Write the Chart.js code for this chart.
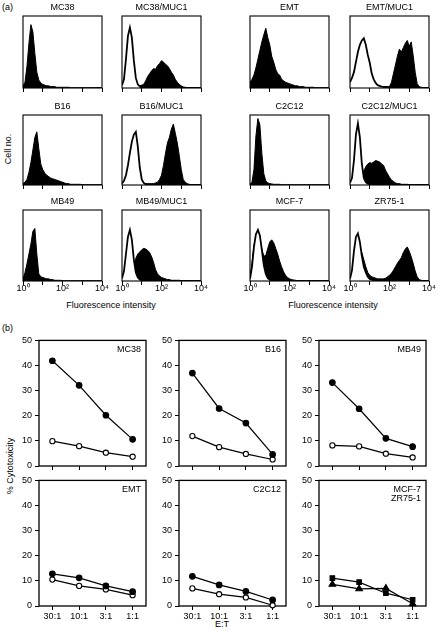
<!DOCTYPE html>
<html>
<head>
<meta charset="utf-8">
<script src="https://cdn.jsdelivr.net/npm/chart.js"></script>
<style>
  body { margin: 0; background: #fff; }
  #fig { position: relative; width: 438px; height: 634px; overflow: hidden; font-family: "Liberation Sans", Arial, sans-serif; color: #000; }
  #fig canvas { position: absolute; }
  .lbl { position: absolute; font-size: 9px; line-height: 10px; white-space: nowrap; transform: translate(-50%, -50%); }
  .rot { transform: translate(-50%, -50%) rotate(-90deg); }
  .tag { position: absolute; font-size: 9px; line-height: 10px; }
</style>
</head>
<body>
<div id="fig">
  <div class="tag" style="left:2px;top:2px">(a)</div>
  <div class="tag" style="left:2px;top:323px">(b)</div>
  <div class="lbl rot" style="left:8px;top:149px">Cell no.</div>
  <div class="lbl" style="left:111px;top:305px">Fluorescence intensity</div>
  <div class="lbl" style="left:333px;top:305px">Fluorescence intensity</div>
  <div class="lbl rot" style="left:10px;top:466px">% Cytotoxicity</div>
  <div class="lbl" style="left:222px;top:624px">E:T</div>
</div>
<script>
// histogram bins, log10 of fluorescence
const logBins = [0,0.1,0.2,0.3,0.4,0.5,0.6,0.7,0.8,0.9,1,1.1,1.2,1.3,1.4,1.5,1.6,1.7,1.8,1.9,2,2.1,2.2,2.3,2.4,2.5,2.6,2.7,2.8,2.9,3,3.1,3.2,3.3,3.4,3.5,3.6,3.7,3.8,3.9,4];
const decadeTicks = ['10\u2070', '', '10\u00b2', '', '10\u2074'];

const histMc38 = [3,8,30,62,88,78,48,22,11,7, 5,4,3,3,2,2,2,1,1,1, 1,1,1,1,0.5,0.5,0.5,0.5,0.5,0.5, 0.5,0.5,0.5,0.5,0.5,0.5,0.5,0.5,0.5,0.5, 0.5];
const histMc38Muc1Ctrl = [4,12,40,72,84,70,38,14,5,2, 1,0,0,0,0,0,0,0,0,0, 0,0,0,0,0,0,0,0,0,0, 0,0,0,0,0,0,0,0,0,0, 0];
const histMc38Muc1 = [1,2,3,3,3,3,3,3,3,3, 4,5,10,16,20,24,27,26,31,34, 38,36,33,31,27,22,18,12,8,5, 3,1.5,1,0.5,0.5,0.5,0.5,0.5,0.5,0.5, 0.5];

const histB16 = [2,4,8,18,32,50,68,76,52,30, 22,17,14,12,10,9,8,7,6,5, 4,3,2,2,1,1,1,1,1,1, 0.5,0.5,0.5,0.5,0.5,0.5,0.5,0.5,0.5,0.5, 0.5];
const histB16Muc1Ctrl = [2,6,14,28,46,62,72,76,55,25, 8,3,1,0,0,0,0,0,0,0, 0,0,0,0,0,0,0,0,0,0, 0,0,0,0,0,0,0,0,0,0, 0];
const histB16Muc1 = [1,1,2,2,2,2,2,2,2,2, 2,2,2,2,2,2,2,3,4,8, 14,28,45,60,68,80,87,74,60,42, 22,8,4,2,1,0.5,0.5,0.5,0.5,0.5, 0.5];

const histEmt = [8,12,18,28,40,52,64,74,83,70, 60,44,36,26,20,18,12,10,8,7, 6,5,4,3,3,2,2,2,1,1, 1,1,1,0.5,0.5,0.5,0.5,0.5,0.5,0.5, 0.5];
const histEmtMuc1Ctrl = [8,14,22,36,50,60,66,69,60,46, 35,20,12,7,4,3,2,1.5,1,1, 1,0.5,0,0,0,0,0,0,0,0, 0,0,0,0,0,0,0,0,0,0, 0];
const histEmtMuc1 = [1,1,2,2,2,2,2,2,2,2, 2,2,2,2,2,2,2,2,2,2, 2,8,20,32,44,54,50,56,62,66, 58,64,45,22,6,2,1,0.5,0.5,0.5, 0.5];

const histC2c12 = [1,4,22,70,95,86,45,16,6,3, 2,1.5,1,1,1,1,0.5,0.5,0.5,0.5, 0.5,0.5,0.5,0.5,0.5,0.5,0.5,0.5,0.5,0.5, 0.5,0.5,0.5,0.5,0.5,0.5,0.5,0.5,0.5,0.5, 0.5];
const histC2c12Muc1Ctrl = [3,10,35,72,88,68,30,10,4,2, 1,0,0,0,0,0,0,0,0,0, 0,0,0,0,0,0,0,0,0,0, 0,0,0,0,0,0,0,0,0,0, 0];
const histC2c12Muc1 = [1,2,3,4,5,8,14,20,26,30, 32,31,33,35,34,33,30,28,21,16, 11,7,5,3,2,2,1,1,1,1, 0.5,0.5,0.5,0.5,0.5,0.5,0.5,0.5,0.5,0.5, 0.5];

const histMb49 = [3,12,24,38,52,70,74,38,10,6, 5,4,3,3,2,2,1,1,1,1, 0.5,0.5,0.5,0.5,0.5,0.5,0.5,0.5,0.5,0.5, 0.5,0.5,0.5,0.5,0.5,0.5,0.5,0.5,0.5,0.5, 0.5];
const histMb49Muc1Ctrl = [4,14,38,62,72,58,30,12,5,2, 1,0,0,0,0,0,0,0,0,0, 0,0,0,0,0,0,0,0,0,0, 0,0,0,0,0,0,0,0,0,0, 0];
const histMb49Muc1 = [1,2,3,4,6,12,22,32,38,41, 44,46,45,43,40,34,26,16,10,7, 5,4,3,2,2,1,1,1,1,1, 0.5,0.5,0.5,0.5,0.5,0.5,0.5,0.5,0.5,0.5, 0.5];

const histMcf7Ctrl = [3,20,48,66,72,64,44,22,10,4, 2,1,0,0,0,0,0,0,0,0, 0,0,0,0,0,0,0,0,0,0, 0,0,0,0,0,0,0,0,0,0, 0];
const histMcf7 = [5,25,50,62,66,60,45,35,36,46, 55,58,54,46,38,28,20,13,8,5, 3,2,1.5,1,0.5,0.5,0.5,0.5,0.5,0.5, 0.5,0.5,0.5,0.5,0.5,0.5,0.5,0.5,0.5,0.5, 0.5];

const histZr751Ctrl = [3,15,42,62,67,55,35,20,12,6, 3,2,1,1,0,0,0,0,0,0, 0,0,0,0,0,0,0,0,0,0, 0,0,0,0,0,0,0,0,0,0, 0];
const histZr751 = [2,10,30,45,50,48,40,30,20,12, 8,6,5,4,3,3,3,3,4,6, 8,11,15,20,25,29,33,40,45,48, 42,34,25,14,6,2,1,0.5,0.5,0.5, 0.5];

// cytotoxicity, effector : target ratios
const ratioLabels = ['30:1', '10:1', '3:1', '1:1'];
const yTicks = [0, 10, 20, 30, 40, 50];
const cytoMc38Muc1 = [41.9, 32.1, 20.2, 10.6];
const cytoMc38 = [9.9, 7.9, 5.3, 3.7];
const cytoB16Muc1 = [37.0, 22.9, 17.1, 4.6];
const cytoB16 = [11.9, 7.5, 4.8, 2.6];
const cytoMb49Muc1 = [33.2, 22.8, 11.0, 7.7];
const cytoMb49 = [8.2, 7.8, 4.9, 3.4];
const cytoEmtMuc1 = [12.8, 11.2, 8.0, 5.7];
const cytoEmt = [10.5, 8.0, 6.6, 4.3];
const cytoC2c12Muc1 = [11.8, 8.4, 5.8, 2.4];
const cytoC2c12 = [7.0, 4.7, 3.4, 0.3];
const cytoMcf7 = [11.1, 9.5, 5.1, 2.5];
const cytoZr751 = [8.6, 6.8, 7.0, 0.9];

const FONT = '"Liberation Sans", Arial, sans-serif';
Chart.defaults.font.family = FONT;
Chart.defaults.font.size = 9;
Chart.defaults.color = '#000';
Chart.defaults.animation = false;

var fig = document.getElementById('fig');

function drawFrame(chart, opts) {
  var a = chart.chartArea, ctx = chart.ctx;
  ctx.save();
  ctx.strokeStyle = '#000';
  ctx.lineWidth = opts.width || 1;
  ctx.strokeRect(a.left, a.top, a.right - a.left, a.bottom - a.top);
  ctx.restore();
}

const framePlugin = {
  id: 'frame',
  beforeDatasetsDraw(chart, args, opts) { if (!opts.onTop) drawFrame(chart, opts); },
  afterDatasetsDraw(chart, args, opts) { if (opts.onTop) drawFrame(chart, opts); }
};

const cornerPlugin = {
  id: 'corner',
  afterDraw(chart, args, opts) {
    if (!opts.lines) return;
    var a = chart.chartArea, ctx = chart.ctx;
    ctx.save();
    ctx.font = '9px ' + FONT;
    ctx.fillStyle = '#000';
    ctx.textAlign = 'right';
    ctx.textBaseline = 'middle';
    opts.lines.forEach(function (t, i) { ctx.fillText(t, a.right - 5, a.top + 9.5 + i * 9); });
    ctx.restore();
  }
};

function addCanvas(left, top, w, h) {
  var c = document.createElement('canvas');
  c.width = w; c.height = h;
  c.style.left = left + 'px';
  c.style.top = top + 'px';
  fig.appendChild(c);
  return c;
}

function toPoints(vals) {
  return logBins.map(function (b, i) { return { x: b, y: vals[i] }; });
}

// histogram boxes: left edges, rows
const histCols = [23, 122, 250, 350];
const histRows = [{ y: 16, h: 72 }, { y: 115, h: 70 }, { y: 210, h: 71 }];
const histW = 79;

const histPanels = [
  { title: 'MC38', fill: histMc38, ctrl: null, c: 0, r: 0 },
  { title: 'MC38/MUC1', fill: histMc38Muc1, ctrl: histMc38Muc1Ctrl, c: 1, r: 0 },
  { title: 'EMT', fill: histEmt, ctrl: null, c: 2, r: 0 },
  { title: 'EMT/MUC1', fill: histEmtMuc1, ctrl: histEmtMuc1Ctrl, c: 3, r: 0 },
  { title: 'B16', fill: histB16, ctrl: null, c: 0, r: 1 },
  { title: 'B16/MUC1', fill: histB16Muc1, ctrl: histB16Muc1Ctrl, c: 1, r: 1 },
  { title: 'C2C12', fill: histC2c12, ctrl: null, c: 2, r: 1 },
  { title: 'C2C12/MUC1', fill: histC2c12Muc1, ctrl: histC2c12Muc1Ctrl, c: 3, r: 1 },
  { title: 'MB49', fill: histMb49, ctrl: null, c: 0, r: 2 },
  { title: 'MB49/MUC1', fill: histMb49Muc1, ctrl: histMb49Muc1Ctrl, c: 1, r: 2 },
  { title: 'MCF-7', fill: histMcf7, ctrl: histMcf7Ctrl, c: 2, r: 2 },
  { title: 'ZR75-1', fill: histZr751, ctrl: histZr751Ctrl, c: 3, r: 2 }
];

function histogram(p) {
  var row = histRows[p.r];
  var canvas = addCanvas(histCols[p.c] - 10, row.y - 14, histW + 20, 14 + row.h + 14);
  var sets = [];
  if (p.ctrl) {
    sets.push({ data: toPoints(p.ctrl), borderColor: '#000', borderWidth: 1.8, backgroundColor: '#fff', fill: 'origin', pointRadius: 0 });
  }
  sets.push({ data: toPoints(p.fill), borderColor: '#000', borderWidth: 1, backgroundColor: '#000', fill: 'origin', pointRadius: 0 });
  new Chart(canvas, {
    type: 'line',
    data: { datasets: sets },
    plugins: [framePlugin],
    options: {
      responsive: false,
      animation: false,
      layout: { padding: { left: 10, right: 10, top: 0, bottom: 0 } },
      plugins: {
        legend: { display: false },
        tooltip: { enabled: false },
        title: { display: true, text: p.title, color: '#000', font: { size: 9, weight: 'normal' }, padding: { top: 0, bottom: 3.2 } },
        frame: { onTop: true, width: 1.1 }
      },
      scales: {
        x: {
          type: 'linear', min: 0, max: 4,
          ticks: { stepSize: 1, padding: -2, display: p.r === 2, maxRotation: 0, autoSkip: false, callback: function (v) { return decadeTicks[v]; } },
          grid: { drawOnChartArea: false, tickLength: 4, color: '#000' },
          border: { display: false },
          afterFit: function (s) { s.height = 14; }
        },
        y: { display: false, min: 0, max: 100 }
      }
    }
  });
}

histPanels.forEach(histogram);

// cytotoxicity panels
const cytoCols = [39, 179, 319];
const cytoRows = [340, 480];
const cytoW = 107, cytoH = 126;

const styles = {
  filled: { pointStyle: 'circle', pointRadius: 2.8, pointBackgroundColor: '#000' },
  open: { pointStyle: 'circle', pointRadius: 2.6, pointBackgroundColor: '#fff' },
  square: { pointStyle: 'rect', pointRadius: 3.2, pointBackgroundColor: '#000' },
  triangle: { pointStyle: 'triangle', pointRadius: 3.8, pointBackgroundColor: '#000' }
};

const cytoPanels = [
  { name: ['MC38'], c: 0, r: 0, series: [[cytoMc38Muc1, 'filled'], [cytoMc38, 'open']] },
  { name: ['B16'], c: 1, r: 0, series: [[cytoB16Muc1, 'filled'], [cytoB16, 'open']] },
  { name: ['MB49'], c: 2, r: 0, series: [[cytoMb49Muc1, 'filled'], [cytoMb49, 'open']] },
  { name: ['EMT'], c: 0, r: 1, series: [[cytoEmtMuc1, 'filled'], [cytoEmt, 'open']] },
  { name: ['C2C12'], c: 1, r: 1, series: [[cytoC2c12Muc1, 'filled'], [cytoC2c12, 'open']] },
  { name: ['MCF-7', 'ZR75-1'], c: 2, r: 1, series: [[cytoMcf7, 'square'], [cytoZr751, 'triangle']] }
];

function cytoChart(p) {
  var canvas = addCanvas(cytoCols[p.c] - 24, cytoRows[p.r] - 8, 24 + cytoW + 6, 8 + cytoH + 18);
  var sets = p.series.map(function (s) {
    return Object.assign({
      data: s[0], borderColor: '#000', borderWidth: 1.2,
      pointBorderColor: '#000', pointBorderWidth: 1.1, fill: false, clip: false
    }, styles[s[1]]);
  });
  new Chart(canvas, {
    type: 'line',
    data: { labels: ratioLabels, datasets: sets },
    plugins: [framePlugin, cornerPlugin],
    options: {
      responsive: false,
      animation: false,
      layout: { padding: { left: 0, right: 6, top: 8, bottom: 0 } },
      plugins: {
        legend: { display: false },
        tooltip: { enabled: false },
        frame: { onTop: false, width: 1.3 },
        corner: { lines: p.name }
      },
      scales: {
        x: {
          type: 'category', offset: true,
          ticks: { display: p.r === 1, padding: 1, maxRotation: 0, autoSkip: false },
          grid: { drawOnChartArea: false, offset: false, tickLength: 4, color: '#000' },
          border: { display: false },
          afterFit: function (s) { s.height = 18; }
        },
        y: {
          min: 0, max: 50,
          afterBuildTicks: function (s) { s.ticks = yTicks.map(function (v) { return { value: v }; }); },
          ticks: { padding: 3 },
          grid: { drawOnChartArea: false, tickLength: 4, color: '#000' },
          border: { display: false },
          afterFit: function (s) { s.width = 24; }
        }
      }
    }
  });
}

cytoPanels.forEach(cytoChart);
</script>
</body>
</html>
